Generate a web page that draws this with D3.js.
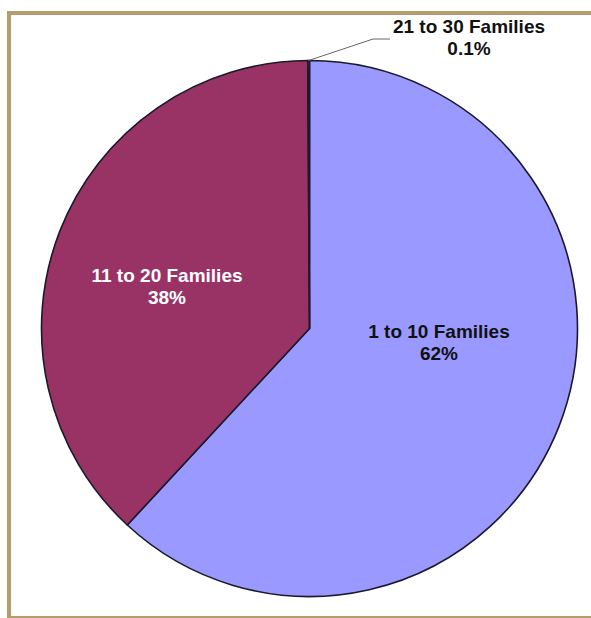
<!DOCTYPE html>
<html><head><meta charset="utf-8">
<script src="https://cdn.jsdelivr.net/npm/d3@7"></script>
<style>html,body{margin:0;padding:0;background:#fff;}svg{display:block;}</style>
</head><body>
<script>
const categories = ["1 to 10 Families", "11 to 20 Families", "21 to 30 Families"];
const values = [61.9, 38.0, 0.1];
const percentLabels = ["62%", "38%", "0.1%"];
const colors = ["#9999ff", "#993366", "#ffffcc"];

const W = 591, H = 618;
const svg = d3.select("body").append("svg").attr("width", W).attr("height", H);

// frame
const frameColor = "#b49c6c";
svg.append("rect").attr("x", 0).attr("y", 0).attr("width", W).attr("height", H).attr("fill", "#fff");
svg.append("line").attr("x1", 7).attr("x2", W).attr("y1", 13).attr("y2", 13).attr("stroke", frameColor).attr("stroke-width", 4);
svg.append("line").attr("x1", 9).attr("x2", 9).attr("y1", 11).attr("y2", H).attr("stroke", frameColor).attr("stroke-width", 4);
svg.append("line").attr("x1", 7).attr("x2", W).attr("y1", 617).attr("y2", 617).attr("stroke", frameColor).attr("stroke-width", 2);

const cx = 309.5, cy = 328.5, R = 268;
const data = categories.map((c, i) => ({cat: c, value: values[i], pct: percentLabels[i], color: colors[i]}));
const pie = d3.pie().sort(null).value(d => d.value);
const arc = d3.arc().innerRadius(0).outerRadius(R);
const arcs = pie(data);

const g = svg.append("g").attr("transform", `translate(${cx},${cy})`);
g.selectAll("path").data(arcs).enter().append("path")
  .attr("d", arc)
  .attr("fill", d => d.data.color)
  .attr("stroke", "#1a1a2a")
  .attr("stroke-width", 1.6)
  .attr("stroke-linejoin", "round");

// label placement (absolute baseline of first line, centered)
const labelPos = [
  {x: 439, y: 338, fill: "#111"},
  {x: 167, y: 282, fill: "#fff"},
  {x: 469, y: 33, fill: "#111"}
];
arcs.forEach((a, i) => {
  const p = labelPos[i];
  const t = svg.append("text")
    .attr("text-anchor", "middle")
    .attr("font-family", "Arial, 'Liberation Sans', sans-serif")
    .attr("font-weight", "bold")
    .attr("font-size", 19)
    .attr("fill", p.fill);
  t.append("tspan").attr("x", p.x).attr("y", p.y).text(a.data.cat);
  t.append("tspan").attr("x", p.x).attr("y", p.y + 22).text(a.data.pct);
});

// leader line for the tiny slice
const tiny = arcs[2];
const mid = (tiny.startAngle + tiny.endAngle) / 2;
const sx = cx + R * Math.sin(mid), sy = cy - R * Math.cos(mid);
svg.append("polyline")
  .attr("points", `${sx},${sy} 373,39 390,39`)
  .attr("fill", "none")
  .attr("stroke", "#666")
  .attr("stroke-width", 1);
</script>
</body></html>
